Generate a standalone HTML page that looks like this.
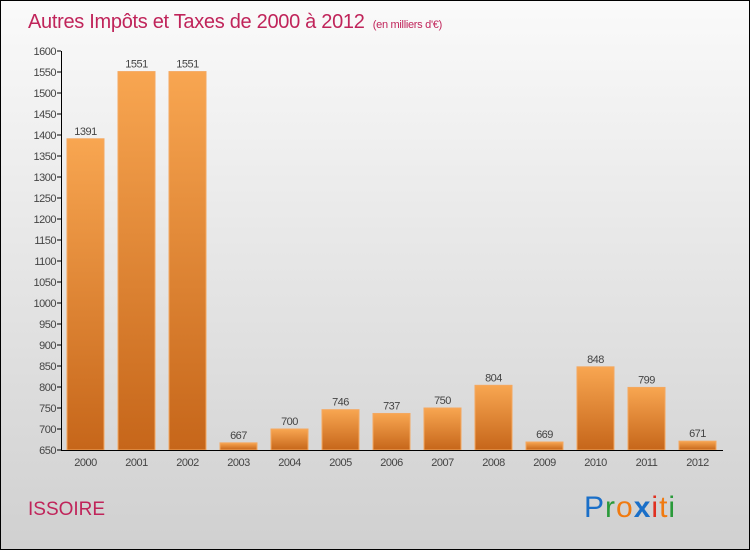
<!DOCTYPE html>
<html><head><meta charset="utf-8"><style>
body{margin:0}
#c{width:748px;height:548px;border:1px solid #000;background:linear-gradient(#fafafa,#d0d0d0);position:relative;overflow:hidden;font-family:"Liberation Sans",sans-serif}
</style></head><body>
<div id="c">
<svg id="s" width="748" height="548" xmlns="http://www.w3.org/2000/svg">
<defs><linearGradient id="g" x1="0" y1="0" x2="0" y2="1"><stop offset="0" stop-color="#f8a651"/><stop offset="1" stop-color="#c6661a"/></linearGradient></defs>
<text x="27" y="27" font-size="20" fill="#c0245a" letter-spacing="-0.3">Autres Impôts et Taxes de 2000 à 2012 <tspan font-size="11" dx="3">(en milliers d'€)</tspan></text>
<text x="27" y="514" font-size="19" fill="#c0245a">ISSOIRE</text>
<text x="583" y="516" font-size="30" letter-spacing="1"><tspan fill="#1a6fc8">P</tspan><tspan fill="#2a9a3a">r</tspan><tspan fill="#f07a10">o</tspan><tspan fill="#1a6fc8" font-weight="bold">x</tspan><tspan fill="#e03020">i</tspan><tspan fill="#f07a10">t</tspan><tspan fill="#2a9a3a">i</tspan></text>
<g id="plot"></g>
</svg>
</div>
<script>
const categories=["2000","2001","2002","2003","2004","2005","2006","2007","2008","2009","2010","2011","2012"];
const values=[1391,1551,1551,667,700,746,737,750,804,669,848,799,671];
const ticks=[650,700,750,800,850,900,950,1000,1050,1100,1150,1200,1250,1300,1350,1400,1450,1500,1550,1600];
const NS="http://www.w3.org/2000/svg";
const p=document.getElementById('plot');
const y=v=>449-(v-650)*(399/950);
const x=i=>66+i*51;
function mk(t,a,txt){const e=document.createElementNS(NS,t);for(const k in a)e.setAttribute(k,a[k]);if(txt!==undefined)e.textContent=txt;p.appendChild(e);return e;}
ticks.forEach(t=>{
 const l=mk('line',{x1:56,x2:60,y1:y(t),y2:y(t),stroke:'#000'});
 
 
 const tx=mk('text',{x:55,y:y(t)+4,'font-size':11,fill:'#444','text-anchor':'end','letter-spacing':'-0.5'},t);
 
 
});
values.forEach((v,i)=>{
 const r=mk('rect',{x:x(i),y:y(v),width:37,height:449-y(v),fill:'url(#g)',stroke:'#f4a860','stroke-width':1});
 
 
 const t=mk('text',{x:x(i)+18.5,y:y(v)-4,'font-size':11,fill:'#444','text-anchor':'middle','letter-spacing':'-0.5'},v);
 
 
 const c=mk('text',{x:x(i)+18.5,y:465,'font-size':11,fill:'#444','text-anchor':'middle','letter-spacing':'-0.5'},categories[i]);
 
 
});
const ya=mk('line',{x1:60.5,x2:60.5,y1:y(1600),y2:450,stroke:'#000'});


const xa=mk('line',{x1:60,x2:722,y1:449.5,y2:449.5,stroke:'#000'});


</script>
</body></html>
